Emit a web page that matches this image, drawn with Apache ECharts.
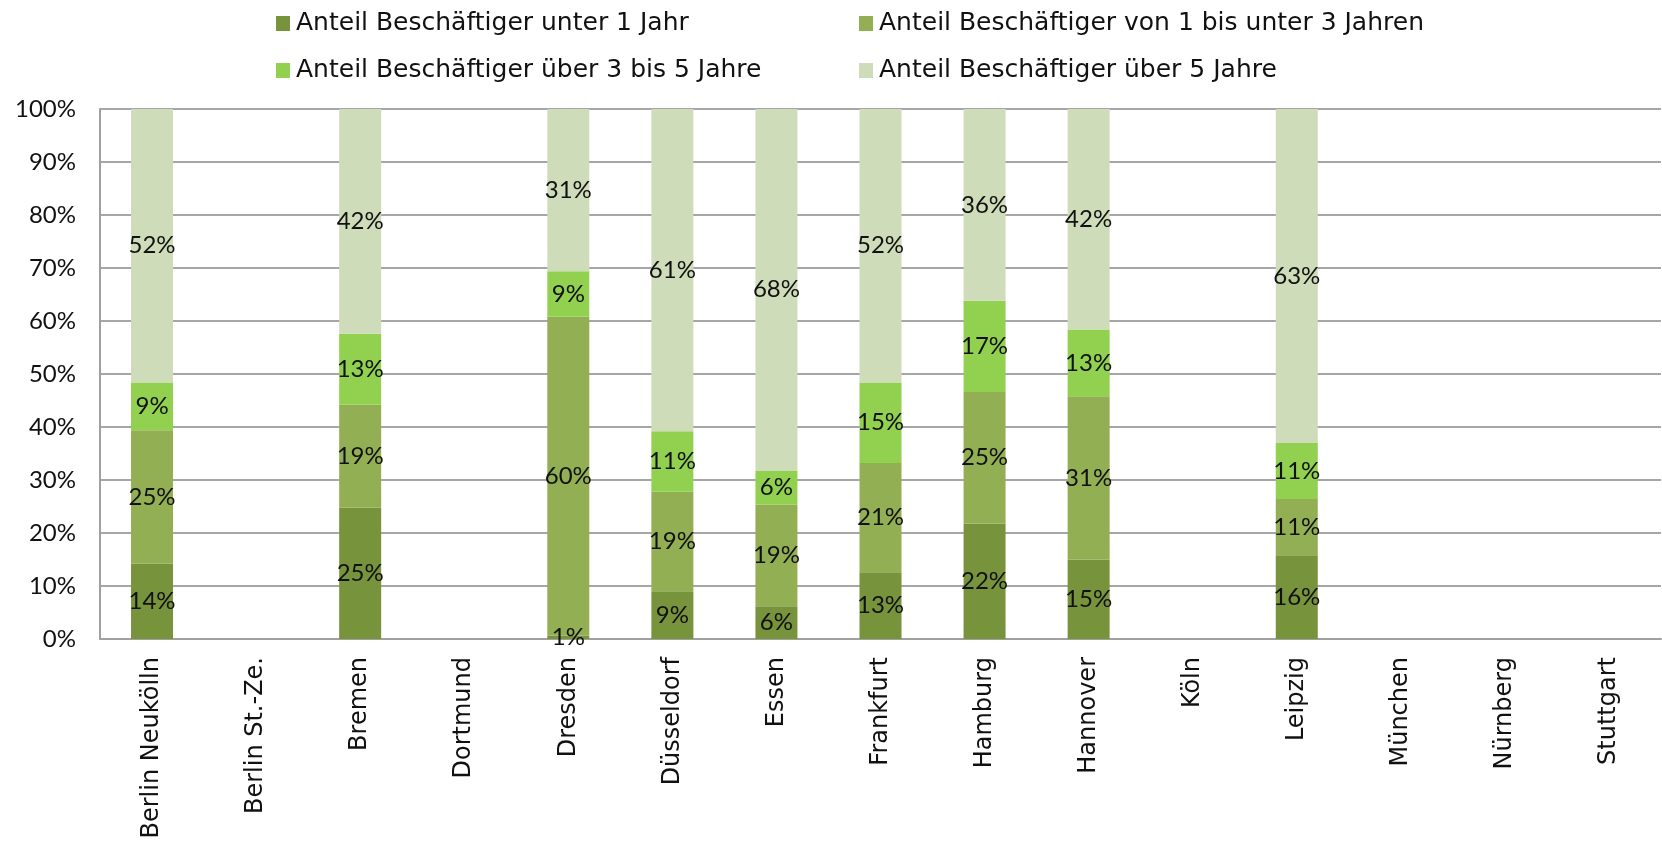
<!DOCTYPE html>
<html><head><meta charset="utf-8">
<script src="https://cdn.jsdelivr.net/npm/echarts@6/dist/echarts.min.js"></script>
<style>html,body{margin:0;padding:0;background:#fff}#c{width:1662px;height:844px}</style>
</head><body><div id="c"></div>
<script>
const categories = ['Berlin Neukölln','Berlin St.-Ze.','Bremen','Dortmund','Dresden','Düsseldorf','Essen','Frankfurt','Hamburg','Hannover','Köln','Leipzig','München','Nürnberg','Stuttgart'];
const seriesNames = ['Anteil Beschäftiger unter 1 Jahr','Anteil Beschäftiger von 1 bis unter 3 Jahren','Anteil Beschäftiger über 3 bis 5 Jahre','Anteil Beschäftiger über 5 Jahre'];
const under1 = [14.2, null, 24.8, null, 0.6, 9.0, 6.2, 12.6, 21.8, 15.0, null, 15.8, null, null, null];
const from1to3 = [25.2, null, 19.4, null, 60.2, 18.8, 19.2, 20.6, 24.8, 30.8, null, 10.6, null, null, null];
const from3to5 = [9.0, null, 13.4, null, 8.6, 11.4, 6.4, 15.2, 17.2, 12.6, null, 10.6, null, null, null];
const over5 = [51.6, null, 42.4, null, 30.6, 60.8, 68.2, 51.6, 36.2, 41.6, null, 63.0, null, null, null];
const yTicks = [0,10,20,30,40,50,60,70,80,90,100];

const colors = ['#77933C','#93AF54','#92D050','#CFDCB9'];
const FONT = 'Lato';
const WIDE = 'DejaVu Sans';
const allData = [under1, from1to3, from3to5, over5];

const series = allData.map((d, i) => ({
  name: seriesNames[i], type: 'bar', stack: 'total', data: d, barWidth: 42,
  itemStyle: { color: colors[i] },
  label: { show: true, position: 'inside', color: '#111', fontFamily: FONT, fontSize: 24,
    formatter: p => p.value == null ? '' : Math.round(p.value) + '%' }
}));

const legendPos = [
  {left: 271, top: 6}, {left: 854, top: 6}, {left: 271, top: 53}, {left: 854, top: 53}
];
const legends = seriesNames.map((n, i) => ({
  data: [n], left: legendPos[i].left, top: legendPos[i].top, itemWidth: 14, itemHeight: 15, itemGap: 6,
  icon: 'rect', textStyle: { fontFamily: WIDE, fontSize: 25, color: '#111', padding: [0,0,0,1] }
}));

const chart = echarts.init(document.getElementById('c'), null, {renderer: 'canvas'});
chart.setOption({
  animation: false,
  color: colors,
  legend: legends,
  grid: { left: 100, right: 1, top: 109, bottom: 205, containLabel: false, outerBoundsMode: 'none' },
  xAxis: {
    type: 'category', data: categories,
    axisLine: { show: true, lineStyle: { color: '#A0A0A0', width: 2 } },
    axisTick: { show: false },
    axisLabel: { rotate: 90, interval: 0, margin: 18, fontFamily: WIDE, fontSize: 24, color: '#111' }
  },
  yAxis: {
    type: 'value', min: 0, max: 100, interval: 10,
    axisLine: { show: true, lineStyle: { color: '#A0A0A0', width: 2 } },
    axisTick: { show: false },
    splitLine: { show: true, lineStyle: { color: '#A6A6A6', width: 2 } },
    axisLabel: { margin: 24, fontFamily: FONT, fontSize: 24, color: '#111',
      formatter: v => yTicks.includes(v) ? v + '%' : '' }
  },
  series: series
});
</script></body></html>
